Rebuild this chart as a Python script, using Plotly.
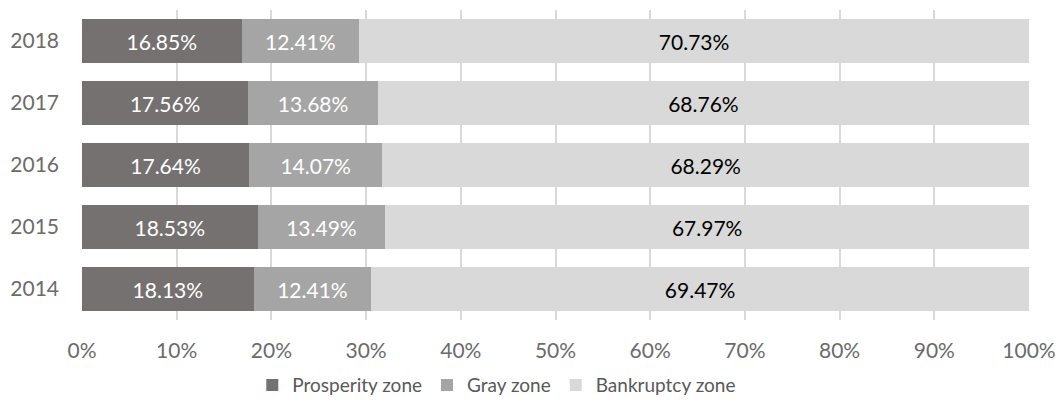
import plotly.graph_objects as go

years = ["2014", "2015", "2016", "2017", "2018"]
prosperity = [18.13, 18.53, 17.64, 17.56, 16.85]
gray = [12.41, 13.49, 14.07, 13.68, 12.41]
bankruptcy = [69.47, 67.97, 68.29, 68.76, 70.73]
tick_vals = [0, 10, 20, 30, 40, 50, 60, 70, 80, 90, 100]
tick_text = [f"{v}%" for v in tick_vals]

FONT = "Lato, Carlito, Calibri, sans-serif"

series = [
    ("Prosperity zone", prosperity, "#767171", "white"),
    ("Gray zone", gray, "#A5A5A5", "white"),
    ("Bankruptcy zone", bankruptcy, "#D9D9D9", "black"),
]

fig = go.Figure()
for name, vals, color, tcolor in series:
    fig.add_trace(go.Bar(
        y=years, x=vals, name=name, orientation="h",
        marker=dict(color=color, line=dict(width=0)),
        text=[f"{v:.2f}%" for v in vals],
        textposition="inside", insidetextanchor="middle",
        textfont=dict(family=FONT, size=21, color=tcolor),
        constraintext="none",
    ))

fig.update_layout(
    barmode="stack",
    barnorm="percent",
    bargap=0.3,
    width=1059, height=403,
    margin=dict(l=82, r=30, t=10, b=83, autoexpand=False),
    plot_bgcolor="white", paper_bgcolor="white",
    font=dict(family=FONT, size=21, color="#595959"),
    legend=dict(orientation="h", x=0.438, xanchor="center", y=-0.21, yanchor="middle",
                font=dict(family=FONT, size=19, color="#595959"),
                itemwidth=30, traceorder="normal"),
    xaxis=dict(range=[0, 100], tickvals=tick_vals, ticktext=tick_text,
               showgrid=True, gridcolor="#D9D9D9", gridwidth=1.5,
               zeroline=False, showline=False, ticks="", automargin=False,
               tickfont=dict(size=21, color="#6b6b6b"), ticklabelstandoff=16),
    yaxis=dict(showgrid=False, ticks="", showline=False, automargin=False,
               tickfont=dict(size=21, color="#6b6b6b"), ticklabelstandoff=22),
)

fig.write_html("out.html", config={"displayModeBar": False},
               post_script="document.body.style.margin='0';")
